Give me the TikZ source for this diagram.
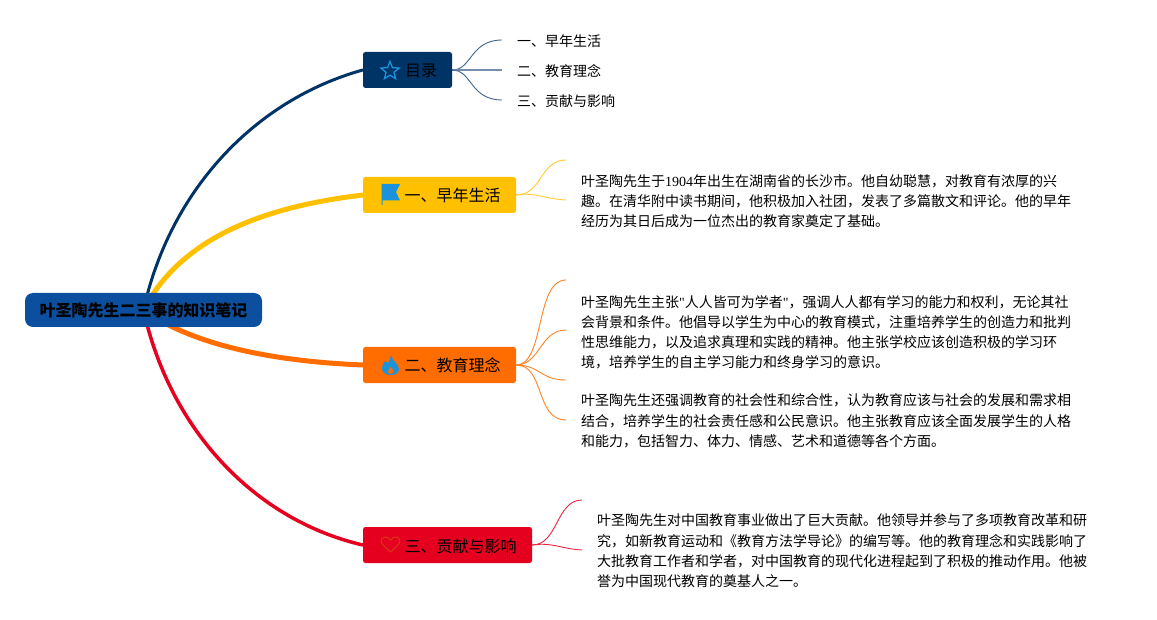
\documentclass[tikz,border=0pt]{standalone}
\usepackage{fontspec}
\setmainfont{Noto Sans CJK SC}
\newfontfamily\latinf{Liberation Serif}
\usetikzlibrary{backgrounds,shapes.geometric}
\definecolor{rootc}{HTML}{0B4F9E}
\definecolor{navyc}{HTML}{003366}
\definecolor{yelc}{HTML}{FFC000}
\definecolor{orgc}{HTML}{FF6D00}
\definecolor{redc}{HTML}{E60020}
\definecolor{iconc}{HTML}{1B93DC}
\definecolor{heartc}{HTML}{D93A10}
\tikzset{
  topic/.style={fill=#1,rounded corners=2.5pt,inner sep=0pt,minimum height=36pt,font=\fontsize{16}{18}\selectfont,text=black,text height=16pt,text depth=2pt},
  rootbox/.style={fill=rootc,rounded corners=8pt,inner sep=0pt,minimum width=237pt,minimum height=34pt,font=\fontsize{16}{18}\selectfont\bfseries,text=black},
  leaf/.style={anchor=west,inner sep=0pt,font=\fontsize{14}{20.3}\selectfont,align=left,text=black},
  mainline/.style={draw=#1,line cap=round},
  thinline/.style={draw=#1,line width=0.9pt}
}
\begin{document}
\begin{tikzpicture}[x=1pt,y=-1pt]
\useasboundingbox (0,0) rectangle (1157,620);
\node[rootbox] (root) at (143.5,310) {叶圣陶先生二三事的知识笔记};
\node[topic=navyc,minimum width=89pt] (mulu) at (407.5,70) {\hspace*{27pt}目录};
\node[topic=yelc,minimum width=153pt] (early) at (439.5,195) {\hspace*{26pt}一、早年生活};
\node[topic=orgc,minimum width=153pt] (edu) at (439.5,365) {\hspace*{26pt}二、教育理念};
\node[topic=redc,minimum width=169pt] (contrib) at (447.5,545) {\hspace*{26pt}三、贡献与影响};

\node[leaf] (t1) at (517,41) {一、早年生活};
\node[leaf] (t2) at (517,71) {二、教育理念};
\node[leaf] (t3) at (517,101) {三、贡献与影响};

\node[leaf] (p1) at (581,201) {叶圣陶先生于{\latinf 1904}年出生在湖南省的长沙市。他自幼聪慧，对教育有浓厚的兴\\趣。在清华附中读书期间，他积极加入社团，发表了多篇散文和评论。他的早年\\经历为其日后成为一位杰出的教育家奠定了基础。};
\node[leaf,font=\fontsize{14}{20}\selectfont] (p2) at (581,332) {叶圣陶先生主张{\latinf "}人人皆可为学者{\latinf "}，强调人人都有学习的能力和权利，无论其社\\会背景和条件。他倡导以学生为中心的教育模式，注重培养学生的创造力和批判\\性思维能力，以及追求真理和实践的精神。他主张学校应该创造积极的学习环\\境，培养学生的自主学习能力和终身学习的意识。};
\node[leaf] (p3) at (581,421) {叶圣陶先生还强调教育的社会性和综合性，认为教育应该与社会的发展和需求相\\结合，培养学生的社会责任感和公民意识。他主张教育应该全面发展学生的人格\\和能力，包括智力、体力、情感、艺术和道德等各个方面。};
\node[leaf] (p4) at (597,551) {叶圣陶先生对中国教育事业做出了巨大贡献。他领导并参与了多项教育改革和研\\究，如新教育运动和《教育方法学导论》的编写等。他的教育理念和实践影响了\\大批教育工作者和学者，对中国教育的现代化进程起到了积极的推动作用。他被\\誉为中国现代教育的奠基人之一。};

% icons
\node[draw=iconc,line width=1.3pt,shape=star,star points=5,star point ratio=2.3,inner sep=0pt,minimum size=19pt] (staricon) at (390,71) {};
\fill[iconc] (381.6,184) -- (400,184) -- (396,192) -- (400,200.5) -- (382.6,200.5) -- (382.6,205) -- (381.6,205) -- cycle;
\fill[iconc] (391,355) .. controls (392,361) and (399,364) .. (399,369)
  .. controls (399,373) and (395,375) .. (391,375)
  .. controls (386,375) and (382,373) .. (382,368)
  .. controls (382,365) and (384,362) .. (385.5,360.5)
  .. controls (386,362) and (387,363) .. (388,363)
  .. controls (389,361) and (391,358) .. (391,355) -- cycle;
\fill[orgc] (390.5,367) .. controls (393,369) and (394,371) .. (393,373) .. controls (391.5,374.5) and (388.5,374.5) .. (388,372.5) .. controls (387.5,371) and (389.5,369.5) .. (390.5,367) -- cycle;
\draw[draw=heartc,line width=0.9pt] (390.5,552) .. controls (385,547) and (381,544) .. (381,541) .. controls (381,537) and (387,535) .. (390.5,540) .. controls (394,535) and (400,537) .. (400,541) .. controls (400,544) and (396,547) .. (390.5,552) -- cycle;

\coordinate (a1) at (502,40);
\coordinate (a2) at (502,70);
\coordinate (a3) at (502,100);
\coordinate (b1) at (566,160);
\coordinate (b2) at (566,200);
\coordinate (c1) at (566,280);
\coordinate (c2) at (566,330);
\coordinate (c3) at (566,380);
\coordinate (c4) at (566,420);
\coordinate (d1) at (582,500);
\coordinate (d2) at (582,550);

\begin{scope}[on background layer]
\fill[white] (0,0) rectangle (1157,620);
\draw[mainline=navyc,line width=3pt] (root.center) .. controls (170,190) and (255,100) .. (mulu.west);
\draw[mainline=redc,line width=3.5pt] (root.center) .. controls (170,430) and (255,520) .. (contrib.west);
\draw[mainline=yelc,line width=5pt] (root.center) .. controls (185,230) and (280,205) .. (early.west);
\draw[mainline=orgc,line width=5pt] (root.center) .. controls (200,350) and (290,362) .. (edu.west);
\draw[thinline=navyc!75!white] (mulu.east) .. controls (472,70) and (470,40) .. (a1);
\draw[thinline=navyc!55!white,line width=1.2pt] (mulu.east) -- (a2);
\draw[thinline=navyc!75!white] (mulu.east) .. controls (472,70) and (470,100) .. (a3);
\draw[thinline=yelc!80!white] (early.east) .. controls (542,195) and (540,160) .. (b1);
\draw[thinline=yelc!80!white] (early.east) .. controls (535,192) and (545,199) .. (b2);
\draw[thinline=orgc!85!white] (edu.east) .. controls (545,365) and (535,280) .. (c1);
\draw[thinline=orgc!85!white] (edu.east) .. controls (540,365) and (540,330) .. (c2);
\draw[thinline=orgc!85!white] (edu.east) .. controls (540,365) and (540,380) .. (c3);
\draw[thinline=orgc!85!white] (edu.east) .. controls (545,365) and (535,420) .. (c4);
\draw[thinline=redc!85!white] (contrib.east) .. controls (558,545) and (556,500) .. (d1);
\draw[thinline=redc!85!white] (contrib.east) .. controls (552,542) and (562,549) .. (d2);
\end{scope}
\end{tikzpicture}
\end{document}
